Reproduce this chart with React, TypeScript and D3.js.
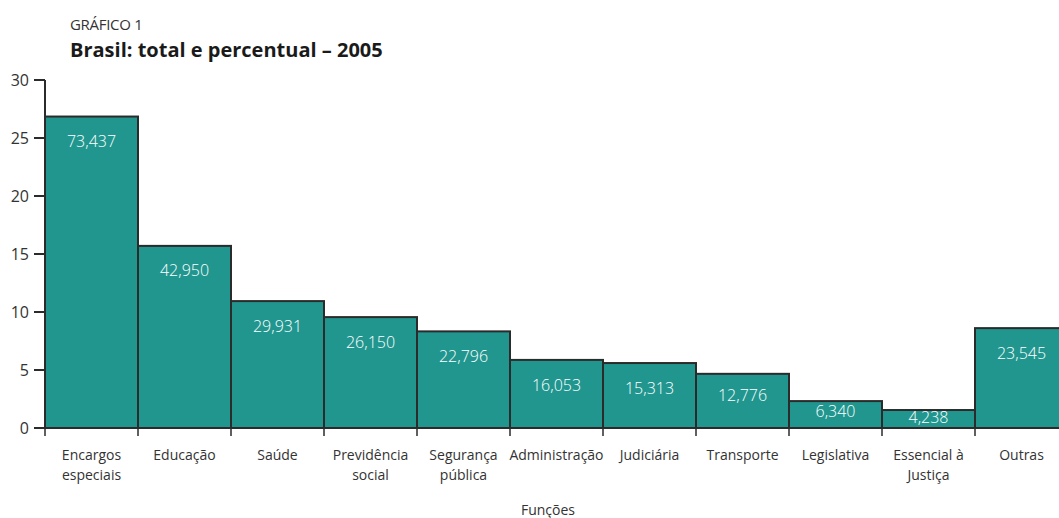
import React from "react";
import * as d3 from "d3";

const categories: string[][] = [
  ["Encargos", "especiais"],
  ["Educação"],
  ["Saúde"],
  ["Previdência", "social"],
  ["Segurança", "pública"],
  ["Administração"],
  ["Judiciária"],
  ["Transporte"],
  ["Legislativa"],
  ["Essencial à", "Justiça"],
  ["Outras"],
];
const percents = [26.85, 15.7, 10.94, 9.56, 8.33, 5.87, 5.6, 4.67, 2.32, 1.55, 8.61];
const totals = ["73,437", "42,950", "29,931", "26,150", "22,796", "16,053", "15,313", "12,776", "6,340", "4,238", "23,545"];
const yTicks = [0, 5, 10, 15, 20, 25, 30];

const FONT = "'Open Sans', 'Noto Sans', sans-serif";
const TEAL = "#21968f";
const STROKE = "#2b2b2b";

export default function App() {
  const W = 1059, H = 518;
  const x0 = 45;
  const step = 93;
  const keys = categories.map((c) => c.join(" "));
  const x = d3.scaleBand<string>().domain(keys).range([x0, x0 + step * keys.length]).padding(0);
  const y = d3.scaleLinear().domain([0, 30]).range([428, 80]);
  const base = y(0);

  return (
    <svg width={W} height={H} style={{ position: "absolute", left: 0, top: 0, overflow: "hidden", background: "#fff" }}>
      <text x={70} y={30} fontFamily={FONT} fontSize={15} fill="#333" letterSpacing={-0.3}>GRÁFICO 1</text>
      <text x={70} y={57} fontFamily={FONT} fontSize={20} fontWeight="bold" fill="#1a1a1a">Brasil: total e percentual – 2005</text>

      {percents.map((p, i) => {
        const bx = x(keys[i])!;
        const top = y(p);
        return (
          <rect key={"b" + i} x={bx} y={top} width={x.bandwidth()} height={base - top}
            fill={TEAL} stroke={STROKE} strokeWidth={2} />
        );
      })}

      {percents.map((p, i) => {
        const bx = x(keys[i])! + x.bandwidth() / 2;
        const top = y(p);
        const off = Math.min(25, (base - top) * 0.4);
        return (
          <text key={"l" + i} x={bx} y={top + off} dy="0.35em" textAnchor="middle"
            fontFamily={FONT} fontSize={16} fontWeight={300} fill="#fff">{totals[i]}</text>
        );
      })}

      {/* y axis */}
      <line x1={x0} x2={x0} y1={y(30)} y2={base} stroke={STROKE} strokeWidth={2} />
      {yTicks.map((t) => (
        <g key={"y" + t}>
          <line x1={34} x2={x0} y1={y(t)} y2={y(t)} stroke={STROKE} strokeWidth={2} />
          <text x={29} y={y(t)} dy="0.35em" textAnchor="end" fontFamily={FONT} fontSize={16} fill="#333">{t}</text>
        </g>
      ))}

      {/* x axis */}
      <line x1={34} x2={W} y1={base} y2={base} stroke={STROKE} strokeWidth={2} />
      {keys.map((k, i) => (
        <line key={"xt" + i} x1={x(k)!} x2={x(k)!} y1={base} y2={base + 8} stroke={STROKE} strokeWidth={1.5} />
      ))}
      {categories.map((lines, i) => (
        <text key={"xl" + i} x={x(keys[i])! + x.bandwidth() / 2} y={460} textAnchor="middle"
          fontFamily={FONT} fontSize={14} fill="#333">
          {lines.map((ln, j) => (
            <tspan key={j} x={x(keys[i])! + x.bandwidth() / 2} dy={j === 0 ? 0 : 20}>{ln}</tspan>
          ))}
        </text>
      ))}
      <text x={548} y={515} textAnchor="middle" fontFamily={FONT} fontSize={14} fill="#333">Funções</text>
    </svg>
  );
}
